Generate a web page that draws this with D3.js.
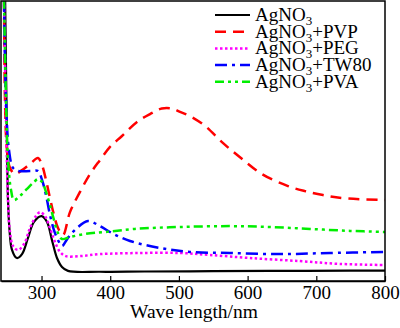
<!DOCTYPE html>
<html><head><meta charset="utf-8">
<script src="https://cdn.jsdelivr.net/npm/d3@7"></script>
<style>body{margin:0;background:#fff}svg{display:block}
svg text{font-family:"Liberation Serif","DejaVu Serif",serif;}</style>
</head><body>
<svg id="c" width="400" height="328"></svg>
<script>
// wavelength (nm) and relative absorbance (0-100 of plot height)
const agno3Wl = [247,249.7,251.2,253.4,257,264,271.6,280.3,289,300.2,308,315.2,322.5,329.8,338.5,385,450,550,650,750,800];
const agno3Ab = [101,50.4,28.9,18.2,11.1,8.2,9.6,15.4,21.1,23.2,21.1,14.6,8.2,5,3.6,3.3,3.4,3.5,3.6,3.7,3.7];

const pvpWl = [245.4,246.8,249.7,254.1,261.4,271.6,283.2,294.9,300.7,306.5,312.3,318.1,324,331.2,341.4,356,370.5,385.1,399.7,417.1,439,457.9,475,490,501.6,516.1,538,562.7,590.3,620.9,658.8,683.5,709.7,738.8,800];
const pvpAb = [100.4,64.6,46.8,40.4,38.2,39.6,41.8,43.9,41.4,36.1,29.6,23.6,18.9,16.4,24.6,31.8,38.2,43.2,47.9,51.8,56.8,59.6,61.6,61.6,60.4,58.9,55.4,49.6,43.9,38.2,33.9,32.1,30.7,29.6,28.9];

const pegWl = [245.4,248.3,251.2,254.1,258.5,265.7,274.5,283.2,291.9,297.8,305,312.3,319.6,326.9,335.6,356,385.1,443.3,501.6,545.2,603.4,676.2,734.5,800];
const pegAb = [100.4,57.5,28.9,17.5,12.5,11.1,13.2,18.9,23.2,24.6,23.2,18.9,13.9,10.4,8.9,8.9,9.6,10,10,9.3,8.2,7.1,6.1,5.7];

const tw80Wl = [245.4,248.3,252.6,258.5,265.7,283.2,294.9,300.7,306.5,312.3,318.1,324,329.8,338.5,350.2,367.6,385.1,402.6,428.8,472.4,516.1,574.3,647.1,719.9,800];
const tw80Ab = [100.4,64.6,46.8,40.4,39.3,39.3,39.3,36.1,30.7,23.6,18.2,14.6,12.5,15.4,18.6,21.4,19.6,17.1,14.3,11.8,10.4,10,9.6,10,10.4];

const pvaWl = [245.4,248.3,251.2,255.6,259.9,268.7,278.8,287.6,294.9,300.7,306.5,312.3,318.1,324,329.8,341.4,363.3,392.4,436,501.6,574.3,632.6,690.8,749,800];
const pvaAb = [100.4,64.6,43.2,32.5,28.9,30.4,32.9,35,36.4,35.4,31.8,27.1,21.8,17.1,15,15.7,16.8,17.5,18.6,19.3,19.6,19.3,18.6,17.9,17.5];

const seriesNames = ["AgNO3","AgNO3+PVP","AgNO3+PEG","AgNO3+TW80","AgNO3+PVA"];
const xTicks = [300,400,500,600,700,800];

const series = [
  {name:seriesNames[0], wl:agno3Wl, ab:agno3Ab, color:"#000000", dash:null, w:2.2},
  {name:seriesNames[1], wl:pvpWl, ab:pvpAb, color:"#ff0000", dash:"11,7", w:2.5},
  {name:seriesNames[2], wl:pegWl, ab:pegAb, color:"#ff00ff", dash:"2.5,2.5", w:2.5},
  {name:seriesNames[3], wl:tw80Wl, ab:tw80Ab, color:"#0000ff", dash:"12,5,3,5", w:2.5},
  {name:seriesNames[4], wl:pvaWl, ab:pvaAb, color:"#00ee00", dash:"9,4,3,4,3,4", w:2.5}
];

const L=1, R=385, T=1, B=281;
const x = d3.scaleLinear().domain([241,800]).range([L,R]);
const y = d3.scaleLinear().domain([0,100]).range([B,T]);
const svg = d3.select("#c");

svg.append("clipPath").attr("id","clip").append("rect")
  .attr("x",L).attr("y",T).attr("width",R-L).attr("height",B-T);

const line = d3.line().curve(d3.curveCatmullRom.alpha(0.5));
const g = svg.append("g").attr("clip-path","url(#clip)");
series.forEach(s=>{
  const pts = s.wl.map((w,i)=>[x(w), y(s.ab[i])]);
  g.append("path").attr("d", line(pts)).attr("fill","none")
    .attr("stroke", s.color).attr("stroke-width", s.w)
    .attr("stroke-dasharray", s.dash);
});

// frame
svg.append("rect").attr("x",L).attr("y",T).attr("width",R-L).attr("height",B-T)
  .attr("fill","none").attr("stroke","#000").attr("stroke-width",1.5);

// bottom axis
const ax = svg.append("g").attr("transform",`translate(0,${B})`)
  .call(d3.axisBottom(x).tickValues(xTicks).tickSizeInner(-5).tickSizeOuter(0));
ax.attr("font-family",null).attr("font-size",null);
ax.select(".domain").attr("stroke","#000").attr("stroke-width",1.5);
ax.selectAll(".tick line").attr("stroke","#000").attr("stroke-width",1.2);
ax.selectAll(".tick text").attr("y",18).attr("dy",null)
  .style("font-size","19px").attr("fill","#000");

svg.append("text").attr("x",194).attr("y",318).attr("text-anchor","middle")
  .style("font-size","19.5px").attr("fill","#000").text("Wave length/nm");

// legend
const lg = svg.append("g");
series.forEach((s,i)=>{
  const yy = 15 + i*16.7;
  lg.append("line").attr("x1",215).attr("x2",250).attr("y1",yy).attr("y2",yy)
    .attr("stroke",s.color).attr("stroke-width",s.w).attr("stroke-dasharray",s.dash);
  const t = lg.append("text").attr("x",255).attr("y",yy+6)
    .style("font-size","19px").attr("fill","#000");
  const parts = s.name.split("3");
  t.append("tspan").text(parts[0]);
  t.append("tspan").attr("dy",4).style("font-size","13px").text("3");
  t.append("tspan").attr("dy",-4).text(parts[1]);
});
</script>
</body></html>
